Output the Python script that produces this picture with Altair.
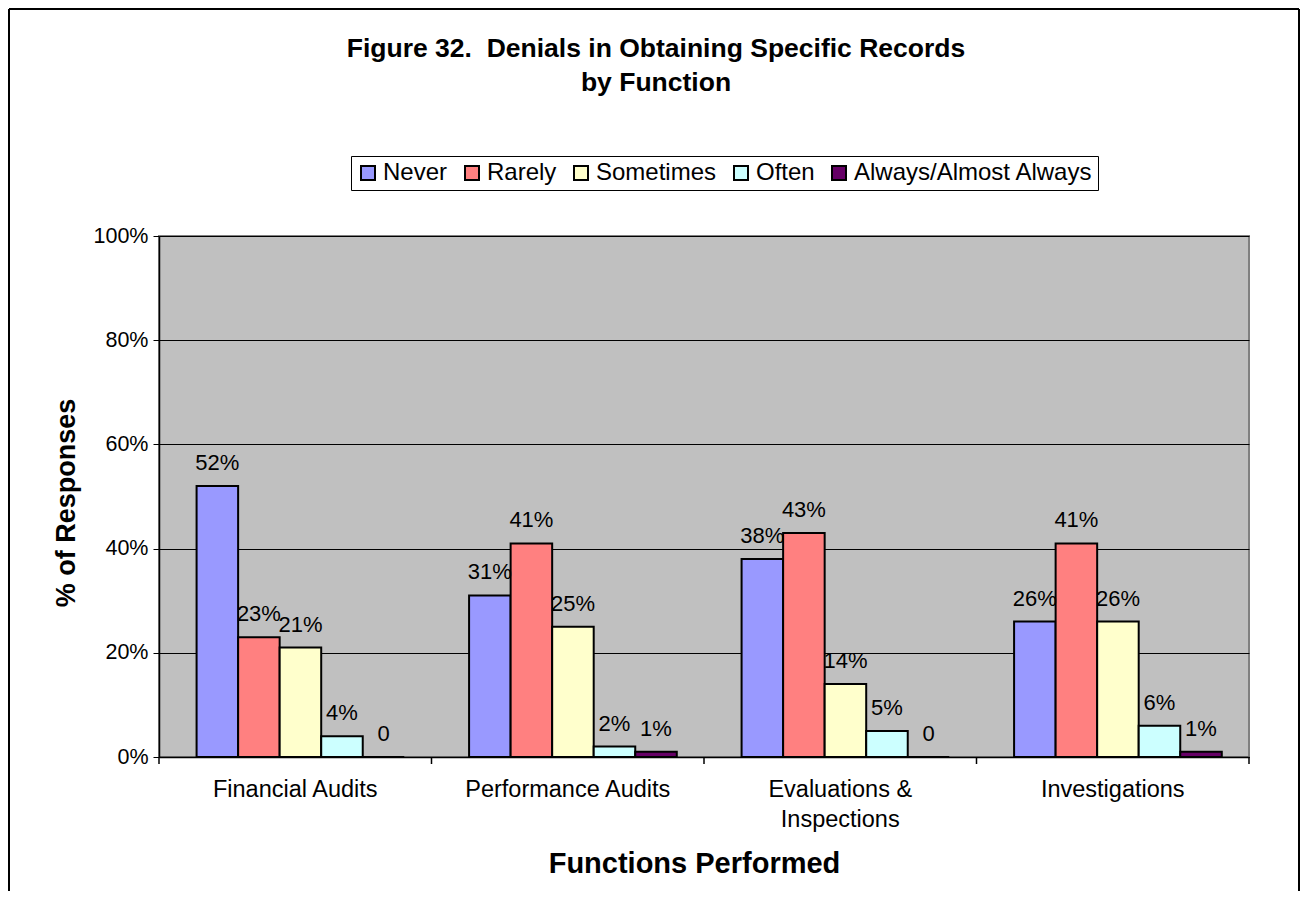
import altair as alt
import pandas as pd

functions = ["Financial Audits", "Performance Audits", "Evaluations &\nInspections", "Investigations"]
responses = ["Never", "Rarely", "Sometimes", "Often", "Always/Almost Always"]
never = [52, 31, 38, 26]
rarely = [23, 41, 43, 41]
sometimes = [21, 25, 14, 26]
often = [4, 2, 5, 6]
always = [0, 1, 0, 1]
colors = ["#9999FF", "#FF8080", "#FFFFCC", "#CCFFFF", "#660066"]
y_ticks = [0, 20, 40, 60, 80, 100]
title_lines = ["Figure 32.\u00a0 Denials in Obtaining Specific Records", "by Function"]

FONT = "Liberation Sans"
W, H = 1090, 521

series = [never, rarely, sometimes, often, always]
rows = []
for r, vals in zip(responses, series):
    for f, v in zip(functions, vals):
        rows.append({"function": f, "response": r, "value": v,
                     "label": "0" if v == 0 else f"{v}%"})
df = pd.DataFrame(rows)
one = pd.DataFrame({"k": [0]})
fdf = pd.DataFrame({"function": functions})

x_enc = alt.X(
    "function:N", sort=functions,
    scale=alt.Scale(paddingInner=0, paddingOuter=0),
    axis=alt.Axis(
        title="Functions Performed", labelExpr="split(datum.label, '\\n')",
        ticks=False, labelAngle=0, labelFont=FONT, labelFontSize=23.5,
        labelColor="black", labelPadding=20, labelLineHeight=30, labelLimit=500,
        domainColor="black", domainWidth=1.5,
        titleFont=FONT, titleFontSize=29, titleFontWeight="bold", titleColor="black",
        titleX=W / 2 - 10, titleY=106, titleBaseline="middle",
    ),
)
xo_enc = alt.XOffset(
    "response:N", sort=responses,
    scale=alt.Scale(paddingInner=0, paddingOuter=0.78, align=0.58),
)
y_enc = alt.Y(
    "value:Q",
    scale=alt.Scale(domain=[0, 100], nice=False),
    axis=alt.Axis(
        values=y_ticks, labelExpr="datum.value + '%'", grid=True,
        gridColor="black", gridWidth=1, tickColor="black", tickSize=6,
        domainColor="black", domainWidth=1.5,
        labelFont=FONT, labelFontSize=21.5, labelColor="black", labelPadding=5,
        title="% of Responses", titleFont=FONT, titleFontSize=27,
        titleFontWeight="bold", titleColor="black",
        titleX=-93, titleY=H / 2 + 6, titleAngle=-90, titleAlign="center",
        titleBaseline="middle",
    ),
)
color_enc = alt.Color(
    "response:N", sort=responses,
    scale=alt.Scale(domain=responses, range=colors),
    legend=alt.Legend(
        orient="none", legendX=192, legendY=-80, direction="horizontal",
        columns=5, title=None, labelFont=FONT, labelFontSize=24,
        labelColor="black", labelLimit=600, symbolType="square", symbolSize=196,
        symbolStrokeColor="black", symbolStrokeWidth=2, strokeColor="black",
        fillColor="white", padding=5, columnPadding=12, labelOffset=3,
    ),
)

bars = alt.Chart(df).mark_bar(stroke="black", strokeWidth=2).encode(
    x=x_enc, xOffset=xo_enc, y=y_enc, color=color_enc
)
labels = alt.Chart(df).mark_text(
    baseline="alphabetic", dy=-16, fontSize=22, font=FONT, color="black"
).encode(x=alt.X("function:N", sort=functions), xOffset=alt.XOffset("response:N", sort=responses),
         y="value:Q", text="label:N")

ticks = alt.Chart(fdf).mark_rule(color="black", strokeWidth=1.5).encode(
    x=alt.X("function:N", sort=functions, bandPosition=0),
    y=alt.value(H), y2=alt.value(H + 7),
)
end_tick = alt.Chart(one).mark_rule(color="black", strokeWidth=1.5).encode(
    x=alt.value(W), y=alt.value(H), y2=alt.value(H + 7)
)

frame_left = alt.Chart(one).mark_rule(color="black", strokeWidth=2).encode(
    x=alt.value(-150), y=alt.value(-227), y2=alt.value(655)
)
frame_top = alt.Chart(one).mark_rule(color="black", strokeWidth=2).encode(
    x=alt.value(-150), x2=alt.value(1140), y=alt.value(-227)
)
frame_right = alt.Chart(one).mark_rule(color="black", strokeWidth=2).encode(
    x=alt.value(1140), y=alt.value(-227), y2=alt.value(655)
)

t1 = alt.Chart(pd.DataFrame({"t": [title_lines[0]]})).mark_text(
    fontSize=26.5, fontWeight="bold", font=FONT, color="black",
    align="center", baseline="middle"
).encode(text="t:N", x=alt.value(497), y=alt.value(-187))
t2 = alt.Chart(pd.DataFrame({"t": [title_lines[1]]})).mark_text(
    fontSize=26.5, fontWeight="bold", font=FONT, color="black",
    align="center", baseline="middle"
).encode(text="t:N", x=alt.value(497), y=alt.value(-153))

chart = alt.layer(
    frame_left, frame_top, frame_right, t1, t2, bars, labels, ticks, end_tick
).properties(width=W, height=H, padding=0, background="white").configure_view(
    fill="#C0C0C0", stroke="#808080", strokeWidth=2
)

chart.save("out.html", embed_options={"renderer": "svg", "actions": False})
